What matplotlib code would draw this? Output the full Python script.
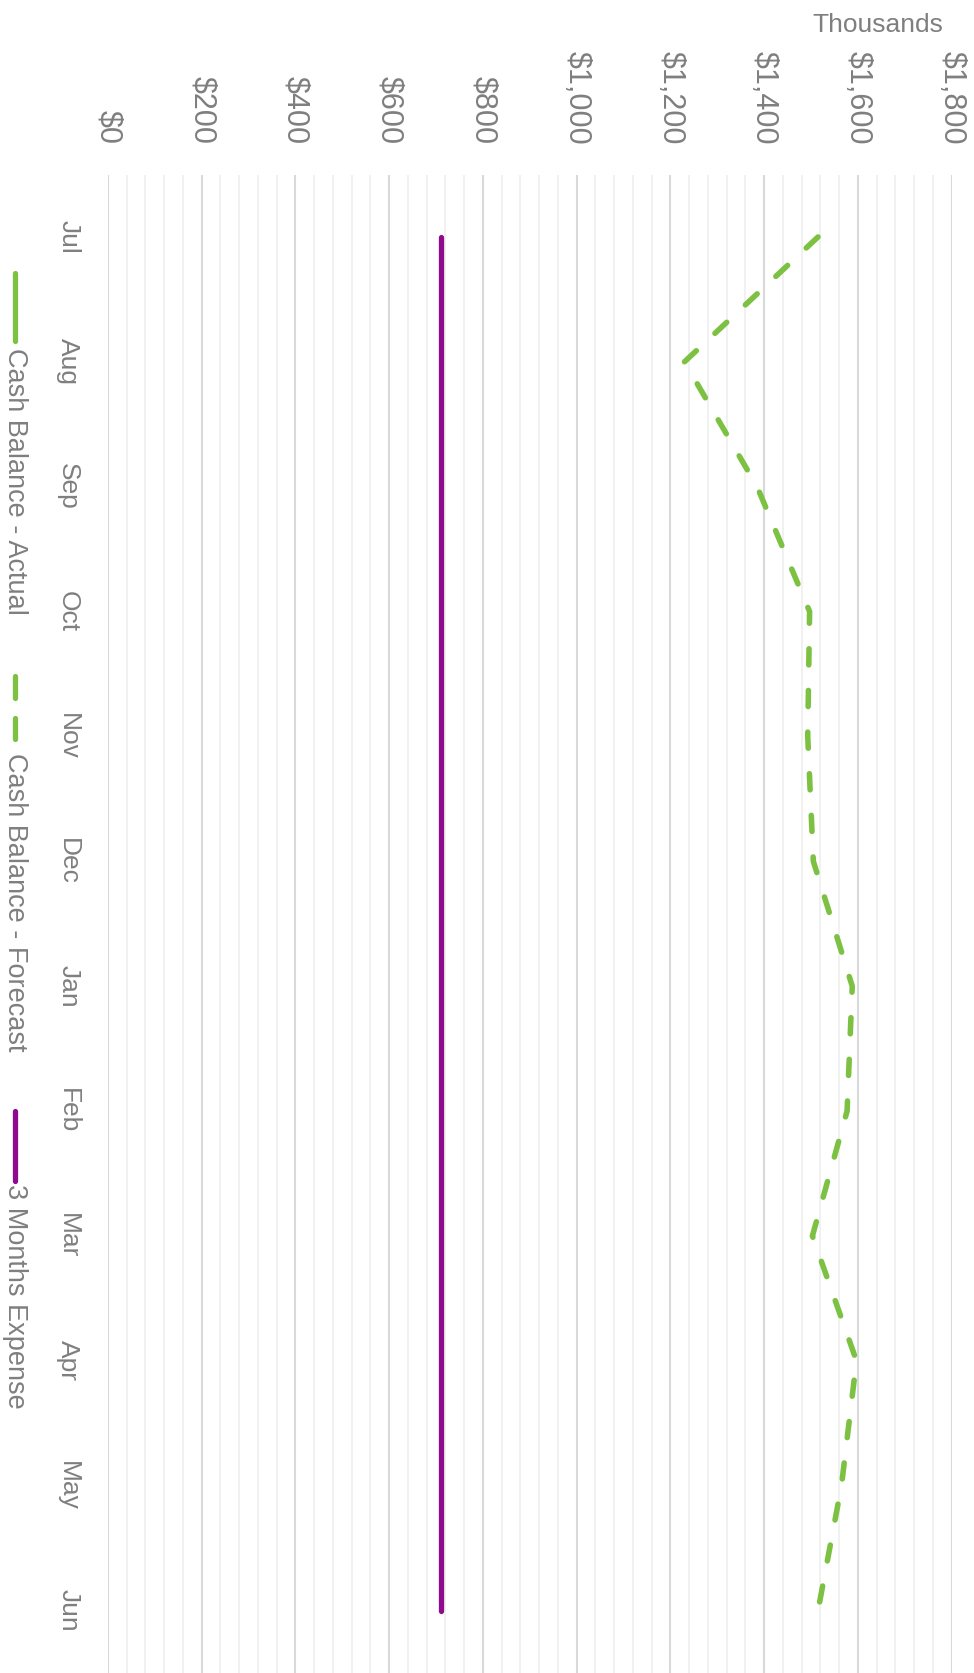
import numpy as np
import matplotlib
matplotlib.use("Agg")
import matplotlib.pyplot as plt
from matplotlib.lines import Line2D

plt.rcParams['font.family'] = ['Liberation Sans', 'DejaVu Sans']

# ---- data ----
months = ["Jul", "Aug", "Sep", "Oct", "Nov", "Dec", "Jan", "Feb", "Mar", "Apr", "May", "Jun"]
cash_actual = [np.nan] * 12
cash_forecast = [1515, 1230, 1385, 1497, 1493, 1505, 1588, 1577, 1503, 1597, 1565, 1515]
three_month_expense = [711] * 12
value_ticks = [0, 200, 400, 600, 800, 1000, 1200, 1400, 1600, 1800]
value_labels = ["$0", "$200", "$400", "$600", "$800", "$1,000", "$1,200", "$1,400", "$1,600", "$1,800"]
series_names = ["Cash Balance - Actual", "Cash Balance - Forecast", "3 Months Expense"]

GREEN = "#7DC142"
PURPLE = "#8E0A8E"
TXT = "#7F7F7F"

W, H = 974, 1673
fig = plt.figure(figsize=(W / 100, H / 100), dpi=100)
ax = fig.add_axes([108 / W, 0, (951.6 - 108) / W, 1 - 174.5 / H])

y = np.arange(len(months))
ax.plot(cash_actual, y, color=GREEN, lw=4.0, solid_capstyle='round')
ax.plot(cash_forecast, y, color=GREEN, lw=4.0, linestyle=(0, (2.9, 4.6)),
        dash_capstyle='round', dash_joinstyle='round')
ax.plot(three_month_expense, y, color=PURPLE, lw=3.8, solid_capstyle='round')

ax.set_xlim(0, 1800)
ax.set_ylim(len(months) - 0.5, -0.5)

ax.xaxis.tick_top()
ax.set_xticks(value_ticks)
ax.set_xticklabels(value_labels, rotation=-90, ha='center', va='bottom',
                   fontsize=22, color=TXT)
ax.set_xticks(np.arange(0, 1801, 40), minor=True)
ax.set_yticks(y)
ax.set_yticklabels(months, rotation=-90, va='center', ha='right',
                   fontsize=19, color=TXT)
ax.tick_params(axis='x', which='both', length=0, pad=21.6)
ax.tick_params(axis='y', which='both', length=0, pad=20)

ax.grid(axis='x', which='major', color='#D9D9D9', lw=1.5)
ax.grid(axis='x', which='minor', color='#F0F0F0', lw=1.3)
ax.grid(axis='y', visible=False)
ax.set_axisbelow(True)
for s in ax.spines.values():
    s.set_visible(False)

fig.text(943 / W, 1 - 25 / H, "Thousands", ha='right', va='center',
         fontsize=19, color=TXT)

# ---- legend (rotated, drawn manually) ----
lx = 15.3 / W
def fy(p):
    return 1 - p / H

fig.add_artist(Line2D([lx, lx], [fy(272.7), fy(340.7)], color=GREEN, lw=3.8,
                      solid_capstyle='round', transform=fig.transFigure))
fig.text(lx, fy(348), series_names[0], rotation=-90, ha='center', va='top',
         fontsize=19.5, color=TXT)

fig.add_artist(Line2D([lx, lx], [fy(676), fy(698)], color=GREEN, lw=3.8,
                      solid_capstyle='round', transform=fig.transFigure))
fig.add_artist(Line2D([lx, lx], [fy(718), fy(739)], color=GREEN, lw=3.8,
                      solid_capstyle='round', transform=fig.transFigure))
fig.text(lx, fy(753), series_names[1], rotation=-90, ha='center', va='top',
         fontsize=19.5, color=TXT)

fig.add_artist(Line2D([lx, lx], [fy(1110.7), fy(1180.7)], color=PURPLE, lw=3.8,
                      solid_capstyle='round', transform=fig.transFigure))
fig.text(lx, fy(1184), series_names[2], rotation=-90, ha='center', va='top',
         fontsize=19.5, color=TXT)

fig.savefig("out.png", dpi=100)
